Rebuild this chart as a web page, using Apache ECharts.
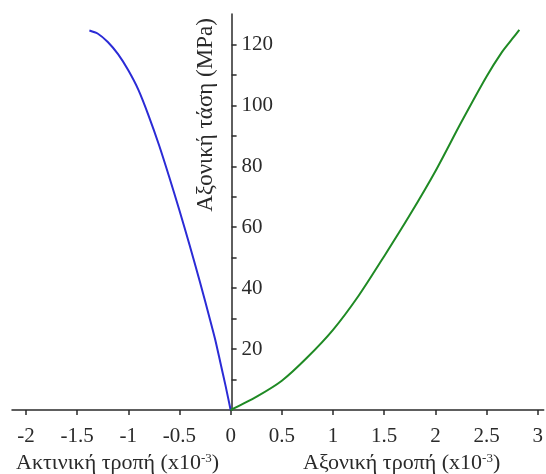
<!DOCTYPE html>
<html>
<head>
<meta charset="utf-8">
<script src="https://cdn.jsdelivr.net/npm/echarts@6/dist/echarts.min.js"></script>
<style>
    html, body { margin: 0; padding: 0; background: #fff; }
    #chart { width: 546px; height: 474px; }
</style>
</head>
<body>
<div id="chart"></div>
<script>
    // ακτινική τροπή (μπλε)
    var radialStrain = [0, -0.05, -0.1, -0.15, -0.2, -0.3, -0.4, -0.5, -0.6, -0.7, -0.8, -0.9, -1.0, -1.1, -1.2, -1.3, -1.38];
    var radialStress = [0, 8, 15.5, 23, 29.5, 42, 54, 65.5, 76.5, 87, 96.5, 105, 111.5, 116.8, 120.8, 123.6, 124.6];
    // αξονική τροπή (πράσινο)
    var axialStrain = [0, 0.25, 0.5, 0.75, 1.0, 1.25, 1.5, 1.75, 2.0, 2.25, 2.5, 2.65, 2.75, 2.82];
    var axialStress = [0, 4.3, 9.6, 17.3, 26.3, 37.5, 50.5, 64, 78.4, 94.3, 109.5, 117.5, 121.8, 124.8];

    var xTicks = [-2, -1.5, -1, -0.5, 0, 0.5, 1, 1.5, 2, 2.5, 3];
    var yTicks = [20, 40, 60, 80, 100, 120];
    var yAllTicks = [10, 20, 30, 40, 50, 60, 70, 80, 90, 100, 110, 120];

    function pairs(xs, ys) {
        return xs.map(function (x, i) { return [x, ys[i]]; });
    }

    var font = '"Liberation Serif", "DejaVu Serif", serif';
    var xMin = -2.136, xMax = 3.058;
    var gridLeft = 12, gridWidth = 546 - gridLeft;
    // άξονας y στο x = 0
    var yOffset = -(0 - xMin) / (xMax - xMin) * gridWidth;

    var chart = echarts.init(document.getElementById('chart'));
    chart.setOption({
        animation: false,
        grid: { left: gridLeft, right: 0, top: 14, bottom: 64 },
        xAxis: {
            type: 'value',
            min: xMin,
            max: xMax,
            splitLine: { show: false },
            axisLine: { onZero: false, lineStyle: { color: '#2a2a2a', width: 1.5 } },
            axisTick: { customValues: xTicks, length: 5, lineStyle: { color: '#2a2a2a', width: 1.5 } },
            axisLabel: {
                customValues: xTicks,
                color: '#2a2a2a',
                fontFamily: font,
                fontSize: 21,
                margin: 16
            }
        },
        yAxis: {
            type: 'value',
            position: 'left',
            offset: yOffset,
            min: 0,
            max: 130,
            splitLine: { show: false },
            axisLine: { onZero: false, lineStyle: { color: '#2a2a2a', width: 1.5 } },
            axisTick: { customValues: yAllTicks, inside: true, length: 5, lineStyle: { color: '#2a2a2a', width: 1.5 } },
            axisLabel: {
                customValues: yTicks,
                inside: true,
                color: '#2a2a2a',
                fontFamily: font,
                fontSize: 21,
                margin: 10
            }
        },
        series: [{
            name: 'Ακτινική τροπή',
            type: 'line',
            data: pairs(radialStrain, radialStress),
            smooth: 0.25,
            showSymbol: false,
            lineStyle: { color: '#2b2bd6', width: 2 }
        }, {
            name: 'Αξονική τροπή',
            type: 'line',
            data: pairs(axialStrain, axialStress),
            smooth: 0.25,
            showSymbol: false,
            lineStyle: { color: '#1f8a24', width: 2 }
        }],
        graphic: [{
            type: 'text',
            left: 16,
            top: 452,
            style: {
                text: 'Ακτινική τροπή (x10{sup|-3})',
                fontFamily: font,
                fontSize: 22,
                fill: '#2a2a2a',
                rich: { sup: { fontSize: 13, verticalAlign: 'top', fontFamily: font, fill: '#2a2a2a' } }
            }
        }, {
            type: 'text',
            left: 303,
            top: 452,
            style: {
                text: 'Αξονική τροπή (x10{sup|-3})',
                fontFamily: font,
                fontSize: 22,
                fill: '#2a2a2a',
                rich: { sup: { fontSize: 13, verticalAlign: 'top', fontFamily: font, fill: '#2a2a2a' } }
            }
        }, {
            type: 'text',
            x: 206,
            y: 115,
            rotation: Math.PI / 2,
            style: {
                text: 'Αξονική τάση (MPa)',
                fontFamily: font,
                fontSize: 23,
                fill: '#2a2a2a',
                align: 'center',
                verticalAlign: 'middle'
            }
        }]
    });
</script>
</body>
</html>
